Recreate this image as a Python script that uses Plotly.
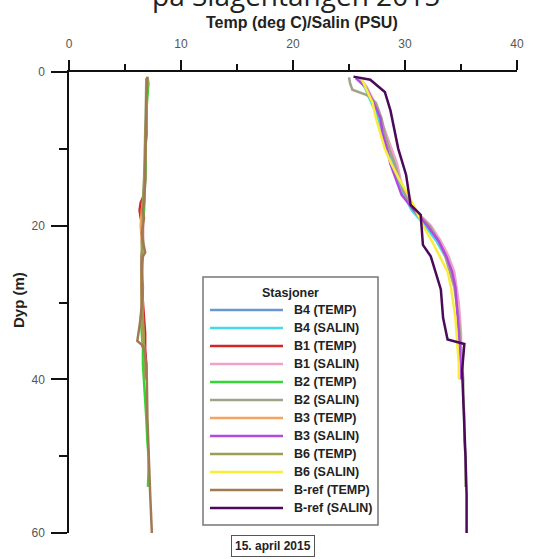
import plotly.graph_objects as go

# ---------------- data ----------------
stations = ["B4", "B1", "B2", "B3", "B6", "B-ref"]
temp_colors = ["#6b96d6", "#d42424", "#33d633", "#f5a35e", "#9c9c52", "#a07a52"]
salin_colors = ["#44d8ea", "#f0a2cc", "#a2a28a", "#b24ae0", "#f8ee3a", "#4a0a5a"]

depth_B4 = [0.8, 2, 4, 6, 8, 10, 12, 14, 16, 18, 20, 22, 24, 26, 28, 30, 32, 34, 36, 38, 40]
temp_B4 = [6.95, 6.9, 6.9, 6.85, 6.85, 6.8, 6.8, 6.75, 6.7, 6.6, 6.55, 6.6, 6.5, 6.5, 6.6, 6.55, 6.5, 6.6, 6.7, 6.75, 6.8]
salin_B4 = [25.9, 26.4, 27.0, 27.6, 27.9, 28.3, 29.0, 29.4, 29.9, 30.6, 31.8, 32.8, 33.6, 34.2, 34.5, 34.7, 34.8, 34.9, 35.0, 35.0, 35.0]

depth_B1 = [0.8, 2, 4, 6, 8, 10, 12, 14, 16, 17, 18, 19, 20, 22, 24, 26, 28, 30, 32, 34, 36, 38, 40]
temp_B1 = [7.0, 6.95, 6.95, 6.9, 6.9, 6.85, 6.8, 6.8, 6.7, 6.4, 6.3, 6.4, 6.6, 6.6, 6.5, 6.5, 6.5, 6.6, 6.7, 6.8, 6.8, 6.9, 6.9]
salin_B1 = [26.0, 26.6, 27.3, 27.8, 28.3, 28.8, 29.3, 29.6, 30.1, 30.5, 31.0, 31.6, 32.3, 33.2, 33.9, 34.4, 34.6, 34.8, 34.9, 35.0, 35.0, 35.1, 35.1]

depth_B2 = [0.7, 1.5, 2.3, 3, 4, 6, 8, 10, 12, 14, 16, 18, 19, 20, 22, 24, 26, 28, 30, 32, 34, 36, 38, 40, 42, 45, 48, 50, 52, 54]
temp_B2 = [7.0, 7.1, 7.05, 7.0, 6.95, 6.9, 6.95, 6.8, 6.85, 6.8, 6.75, 6.7, 6.6, 6.5, 6.6, 6.55, 6.5, 6.5, 6.6, 6.4, 6.5, 6.6, 6.6, 6.7, 6.8, 6.9, 7.0, 7.1, 7.1, 7.05]
salin_B2 = [25.0, 25.1, 25.3, 26.6, 27.4, 27.9, 28.2, 28.6, 29.1, 29.5, 30.0, 30.8, 31.5, 32.2, 33.0, 33.6, 34.0, 34.4, 34.6, 34.8, 34.9, 35.0, 35.1, 35.2, 35.2, 35.3, 35.3, 35.4, 35.4, 35.4]

depth_B3 = [0.8, 2, 4, 6, 8, 10, 12, 14, 16, 18, 20, 22, 24, 26, 28, 30, 32, 34, 36, 38, 40]
temp_B3 = [7.0, 6.95, 6.9, 6.9, 6.85, 6.8, 6.75, 6.7, 6.7, 6.5, 6.4, 6.5, 6.6, 6.5, 6.45, 6.5, 6.55, 6.6, 6.7, 6.8, 6.85]
salin_B3 = [25.6, 26.5, 27.2, 27.8, 28.0, 28.4, 28.7, 29.2, 29.7, 30.8, 32.0, 33.0, 33.7, 34.2, 34.5, 34.6, 34.7, 34.8, 34.9, 34.9, 35.0]

depth_B6 = [0.8, 2, 4, 6, 8, 10, 12, 14, 16, 18, 19, 20, 22, 24, 26, 28, 30, 32, 34, 36, 38, 40]
temp_B6 = [6.9, 6.9, 6.85, 6.85, 6.8, 6.8, 6.75, 6.7, 6.65, 6.55, 6.6, 6.6, 6.5, 6.5, 6.55, 6.5, 6.5, 6.6, 6.65, 6.7, 6.8, 6.8]
salin_B6 = [26.1, 26.5, 27.1, 27.4, 27.8, 28.2, 28.8, 29.5, 30.3, 31.0, 31.3, 31.6, 32.4, 33.1, 33.8, 34.1, 34.3, 34.5, 34.6, 34.7, 34.8, 34.8]

depth_Bref_T = [0.6, 2, 4, 6, 8, 10, 12, 14, 16, 17, 18, 19, 20, 21, 22, 23, 23.5, 24, 25, 26, 28, 30, 32, 34, 35, 35.5, 36, 38, 40, 45, 50, 55, 60]
temp_Bref = [7.0, 6.95, 6.9, 6.9, 6.85, 6.85, 6.8, 6.8, 6.75, 6.7, 6.6, 6.7, 6.6, 6.5, 6.6, 6.7, 6.8, 6.6, 6.5, 6.5, 6.5, 6.5, 6.4, 6.2, 6.1, 6.5, 6.7, 6.9, 6.95, 7.0, 7.1, 7.25, 7.4]
depth_Bref_S = [0.6, 1.0, 2.6, 5, 10, 13.4, 17.3, 18.6, 22.5, 24, 28.3, 32, 34.8, 35.4, 38.8, 45, 50, 55, 60]
salin_Bref = [25.4, 26.9, 28.2, 28.7, 29.4, 30.1, 30.5, 31.4, 31.6, 32.3, 33.2, 33.4, 33.8, 35.3, 35.1, 35.3, 35.4, 35.5, 35.5]

depths_T = [depth_B4, depth_B1, depth_B2, depth_B3, depth_B6, depth_Bref_T]
depths_S = [depth_B4, depth_B1, depth_B2, depth_B3, depth_B6, depth_Bref_S]
temps = [temp_B4, temp_B1, temp_B2, temp_B3, temp_B6, temp_Bref]
salins = [salin_B4, salin_B1, salin_B2, salin_B3, salin_B6, salin_Bref]

x_ticks = [0, 10, 20, 30, 40]
y_ticks = [0, 20, 40, 60]

# ---------------- figure ----------------
W, H = 538, 559
L, R, T, B = 69, 21, 72, 26
PW, PH = W - L - R, H - T - B
FONT = "Liberation Sans, Arial, sans-serif"


def px(xp):
    return (xp - L) / PW


def py(yp):
    return (H - B - yp) / PH


fig = go.Figure()
legend_items = []
for i, s in enumerate(stations):
    fig.add_trace(go.Scatter(x=temps[i], y=depths_T[i], mode="lines",
                             name=f"{s} (TEMP)", line=dict(color=temp_colors[i], width=2.5),
                             showlegend=False))
    legend_items.append((f"{s} (TEMP)", temp_colors[i]))
    fig.add_trace(go.Scatter(x=salins[i], y=depths_S[i], mode="lines",
                             name=f"{s} (SALIN)", line=dict(color=salin_colors[i], width=2.5),
                             showlegend=False))
    legend_items.append((f"{s} (SALIN)", salin_colors[i]))

fig.update_layout(
    width=W, height=H,
    margin=dict(l=L, r=R, t=T, b=B, pad=0),
    paper_bgcolor="white", plot_bgcolor="white",
    showlegend=False,
    font=dict(family=FONT, size=12, color="#444"),
    xaxis=dict(range=[0, 40], side="top", showgrid=False, zeroline=False,
               showline=True, linecolor="#111", linewidth=1.5,
               tickmode="array", tickvals=x_ticks, ticks="outside", ticklen=10,
               tickwidth=1.5, tickcolor="#111", ticklabelstandoff=7,
               tickfont=dict(family=FONT, size=12, color="#555"),
               minor=dict(dtick=5, ticks="outside", ticklen=6, tickwidth=1.5, tickcolor="#111")),
    yaxis=dict(range=[60, 0], showgrid=False, zeroline=False,
               showline=True, linecolor="#111", linewidth=1.5,
               tickmode="array", tickvals=y_ticks, ticks="outside", ticklen=16,
               tickwidth=1.5, tickcolor="#111", ticklabelstandoff=4,
               tickfont=dict(family=FONT, size=12, color="#555"),
               minor=dict(dtick=10, ticks="outside", ticklen=8, tickwidth=1.5, tickcolor="#111")),
)

annotations = [
    dict(text="på Slagentangen 2015", x=px(296), y=py(-5), xref="paper", yref="paper",
         xanchor="center", yanchor="middle", showarrow=False,
         font=dict(family="Open Sans, sans-serif", size=28, color="#222")),
    dict(text="<b>Temp (deg C)/Salin (PSU)</b>", x=px(302), y=py(23), xref="paper", yref="paper",
         xanchor="center", yanchor="middle", showarrow=False,
         font=dict(family=FONT, size=16, color="#222")),
    dict(text="<b>Dyp (m)</b>", x=px(18), y=py(300), xref="paper", yref="paper",
         xanchor="center", yanchor="middle", showarrow=False, textangle=-90,
         font=dict(family=FONT, size=15, color="#222")),
    dict(text="<b>15. april 2015</b>", x=px(273), y=py(546), xref="paper", yref="paper",
         xanchor="center", yanchor="middle", showarrow=False,
         bordercolor="#555", borderwidth=1, borderpad=3, bgcolor="white",
         font=dict(family=FONT, size=12, color="#222")),
]

# custom legend box
lx0, lx1, ly0, ly1 = 203, 378, 277, 525
shapes = [dict(type="rect", xref="paper", yref="paper", x0=px(lx0), x1=px(lx1),
               y0=py(ly0), y1=py(ly1), line=dict(color="#777", width=1.5), fillcolor="white",
               layer="above")]
annotations.append(dict(text="<b>Stasjoner</b>", x=px(290), y=py(293), xref="paper", yref="paper",
                        xanchor="center", yanchor="middle", showarrow=False,
                        font=dict(family=FONT, size=12.5, color="#222")))
row0, step = 310, 18.0
for k, (name, col) in enumerate(legend_items):
    yy = row0 + k * step
    shapes.append(dict(type="line", xref="paper", yref="paper", x0=px(210), x1=px(283),
                       y0=py(yy), y1=py(yy), line=dict(color=col, width=2.5), layer="above"))
    annotations.append(dict(text=f"<b>{name}</b>", x=px(292), y=py(yy), xref="paper", yref="paper",
                            xanchor="left", yanchor="middle", showarrow=False,
                            font=dict(family=FONT, size=12.5, color="#222")))

fig.update_layout(shapes=shapes, annotations=annotations)
fig.write_html("out.html", config={"displayModeBar": False},
               post_script="document.body.style.margin='0';document.body.style.overflow='hidden';")
